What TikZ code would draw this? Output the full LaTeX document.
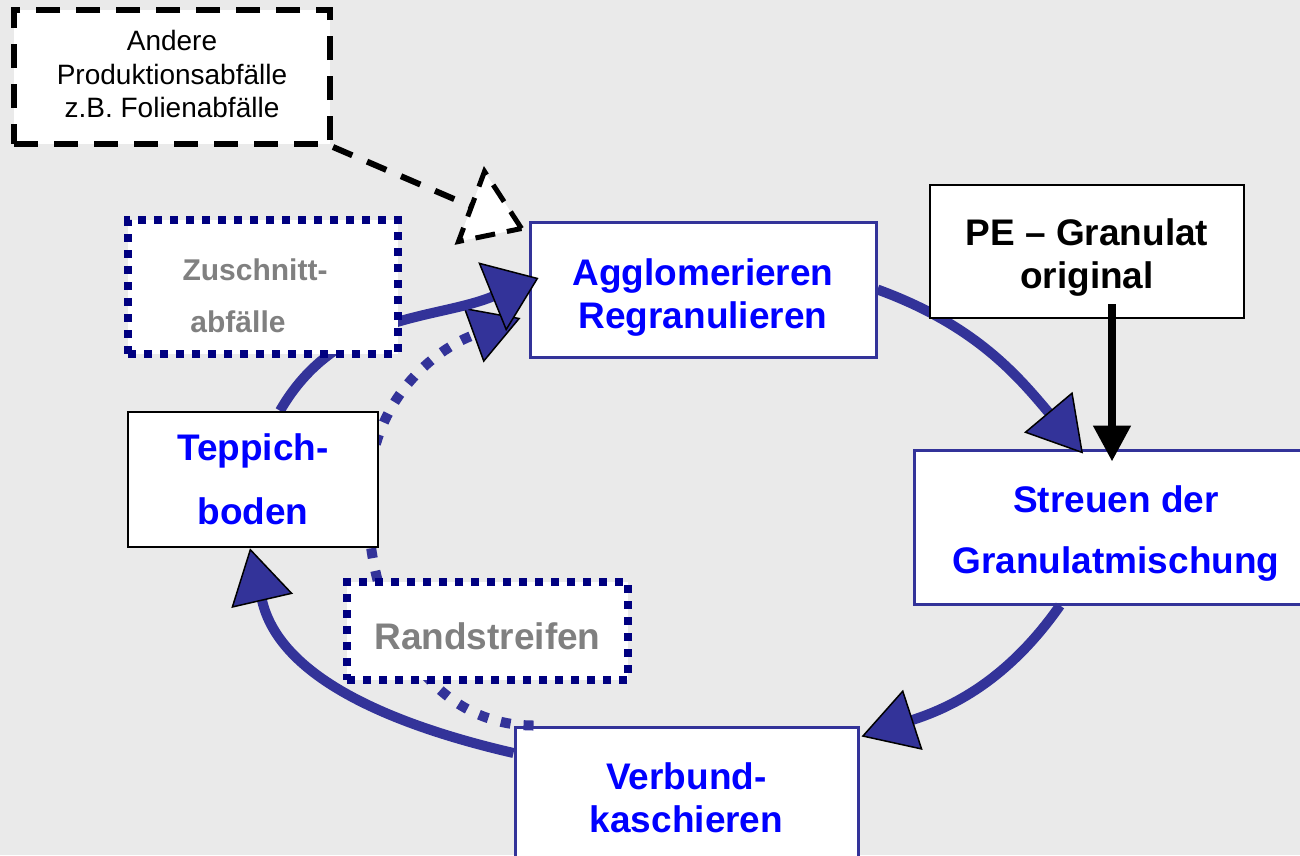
\documentclass[tikz,border=0pt]{standalone}
\usepackage{fontspec}
\setmainfont{Liberation Sans}
\usetikzlibrary{arrows.meta}
\definecolor{bgc}{HTML}{EAEAEA}
\definecolor{arcblue}{HTML}{333399}
\definecolor{navyc}{HTML}{000080}
\definecolor{txtblue}{HTML}{0000FF}
\definecolor{txtgrey}{HTML}{808080}
\pgfdeclarelayer{bg}
\pgfdeclarelayer{lowbox}
\pgfdeclarelayer{lines}
\pgfdeclarelayer{top}
\pgfsetlayers{bg,lowbox,lines,main,top}
\begin{document}
\begin{tikzpicture}[x=1pt,y=1pt,
  bigfont/.style={font=\fontsize{37}{43}\selectfont\bfseries},
  bluebox/.style={draw=arcblue, line width=3pt, fill=white, inner sep=0pt, align=center, text=txtblue, bigfont},
  blackbox/.style={draw=black, line width=2.5pt, fill=white, inner sep=0pt, align=center, bigfont},
  dotbox/.style={draw=navyc, line width=8pt, dash pattern=on 8pt off 8pt, fill=white, inner sep=0pt, align=center, text=txtgrey},
  dashbox/.style={draw=black, line width=6pt, dash pattern=on 24pt off 16pt, fill=white, inner sep=0pt, align=center, font=\fontsize{28}{33.5}\selectfont},
  cyc/.style={draw=arcblue, line width=10pt},
  bigtip/.style={-{Triangle[length=54pt,width=63pt,fill=arcblue,color=black,line width=1.5pt]}},
  aggtip/.style={-{Triangle[length=50pt,width=74pt,fill=arcblue,color=black,line width=1.5pt]}},
  dottip/.style={-{Triangle[length=50pt,width=58pt,fill=arcblue,color=black,line width=1.5pt]}},
  dotline/.style={draw=arcblue, line width=10pt, dash pattern=on 10pt off 13pt},
  dashline/.style={draw=black, line width=6pt, dash pattern=on 21pt off 16pt},
  blackarrow/.style={draw=black, line width=8pt, -{Triangle[length=36pt,width=36pt]}}
]
\useasboundingbox (0,0) rectangle (1300,-855);
\begin{pgfonlayer}{bg}
\fill[bgc] (0,0) rectangle (1300,-855);
\end{pgfonlayer}

\begin{pgfonlayer}{lowbox}
\node[bluebox, minimum width=346, minimum height=135] (agg) at (703,-289.5) {\rule{0pt}{43pt}Agglomerieren\\Regranulieren};
\node[bluebox, minimum width=404, minimum height=154] (streu) at (1116,-527) {\rule{0pt}{40.5pt}Streuen der\\[18pt]Granulatmischung};
\node[bluebox, minimum width=343, minimum height=142] (verb) at (686.5,-798) {Verbund-\\kaschieren};
\end{pgfonlayer}

\node[dashbox, minimum width=316, minimum height=134] (andere) at (172,-77) {Andere\\Produktionsabfälle\\z.B. Folienabfälle\rule[-6pt]{0pt}{6pt}};
\node[dotbox, minimum width=270, minimum height=134, font=\fontsize{30}{52}\selectfont\bfseries] (zus) at (263,-287) {\hspace*{-16pt}\rule{0pt}{40pt}Zuschnitt-\\\hspace*{-50pt}abfälle};
\node[dotbox, minimum width=281, minimum height=98, bigfont] (rand) at (487.5,-631) {\rule{0pt}{37pt}Randstreifen};
\node[blackbox, text=txtblue, minimum width=250, minimum height=135] (tepp) at (253,-479.5) {Teppich-\\[21pt]boden};
\node[blackbox, line width=2pt, minimum width=314, minimum height=133] (pe) at (1087,-251.5) {\rule{0pt}{38.5pt}PE – Granulat\\original};

\coordinate (hid) at ([xshift=-10]tepp.east);
\coordinate (dtip) at ([shift={(-7,-8)}]agg.north west);
\coordinate (dbase) at ([shift={(-50,22)}]dtip);

\begin{pgfonlayer}{lines}
\draw[cyc, bigtip] (agg.east) to[out=-20, in=130] ([shift={(-33,-5)}]streu.north);
\draw[cyc, bigtip] ([xshift=-56]streu.south) to[out=-125, in=18] ([shift={(2,-11)}]verb.north east);
\draw[cyc, bigtip] ([yshift=45]verb.west) to[out=167, in=-77] ([xshift=-3]tepp.south);
\draw[dotline, dottip] ([xshift=20]verb.north west) to[out=180, in=-95] (hid) to[out=85, in=-160] ([shift={(-8,-28.5)}]agg.west);
\draw[cyc, aggtip] ([xshift=27]tepp.north) to[out=60, in=-158] ([shift={(10,11.5)}]agg.west);
\draw[dashline] (andere.south east) -- (dbase);
\end{pgfonlayer}

\begin{pgfonlayer}{top}
\draw[blackarrow] ([shift={(25,15)}]pe.south) -- ([shift={(-4,-13)}]streu.north);
\draw[black, line width=5pt, dash pattern=on 20pt off 12pt, fill=white, line join=miter] (dtip) -- ++(-37,57) -- ++(-26,-70) -- cycle;
\end{pgfonlayer}
\end{tikzpicture}
\end{document}
